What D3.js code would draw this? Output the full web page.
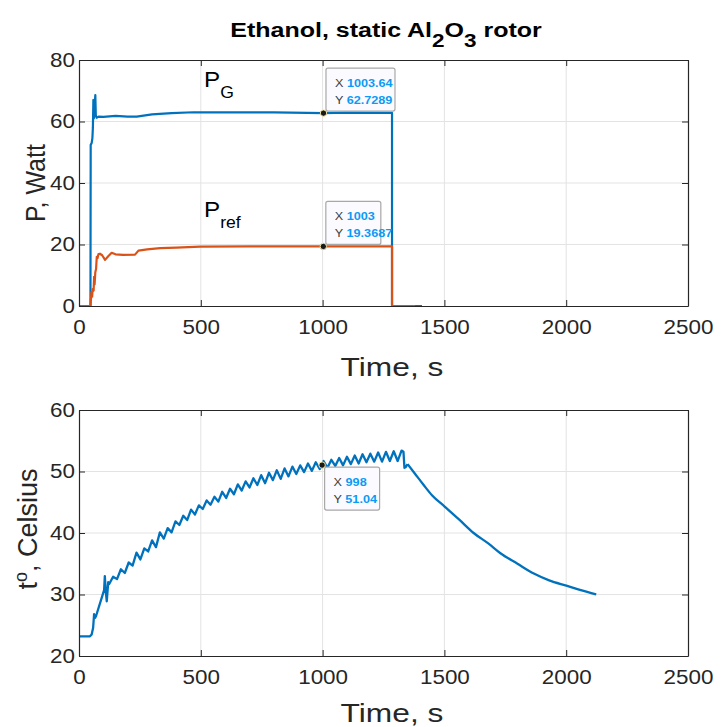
<!DOCTYPE html>
<html lang="en">
<head>
<meta charset="utf-8">
<title>Ethanol, static Al2O3 rotor</title>
<style>
  body { margin: 0; background: #fff; }
  svg { font-family: "Liberation Sans", Arial, Helvetica, sans-serif; }
  .tick text { fill: #262626; font-size: 19.5px; }
  .grid line { stroke: #e3e3e3; stroke-width: 1; }
</style>
</head>
<body>
<svg width="724" height="727"></svg>
<script src="https://d3js.org/d3.v7.min.js"></script>
<script>
// ---- data ----
var xTicks = [0, 500, 1000, 1500, 2000, 2500];
var pTicks = [0, 20, 40, 60, 80];
var tTicks = [20, 30, 40, 50, 60];

// generator power P_G (W) vs time (s)
var pgTime = [0, 47, 48, 52, 55, 57, 59, 61, 64, 67, 69, 72, 80, 100, 150, 200, 237, 300, 380, 470, 600, 800, 1003.64, 1100, 1285, 1285, 1408];
var pgVal  = [0, 0, 52.4, 53, 54.6, 58, 67, 61, 65, 68.6, 62, 61.2, 61.6, 61.5, 61.8, 61.6, 61.6, 62.3, 62.7, 63, 63, 63, 62.7289, 62.9, 62.8, 0, 0];

// reference power P_ref (W) vs time (s)
var prTime = [0, 47, 49, 51, 54, 56, 60, 62, 64, 67, 70, 73, 76, 80, 86, 95, 107, 120, 134, 150, 180, 230, 244, 280, 333, 400, 497, 700, 1003, 1200, 1285, 1285, 1380];
var prVal  = [0, 0, 2, 4.5, 3, 5.5, 5, 9.5, 7, 11, 12, 16, 15.5, 16.9, 17, 16.5, 15, 16.2, 17.3, 16.8, 16.6, 16.7, 18.0, 18.4, 18.8, 19.0, 19.3, 19.4, 19.3687, 19.4, 19.4, 0, 0];

// temperature (deg C) vs time (s)
var tTime = [0, 45, 52, 58, 62, 66, 70, 103, 106, 110, 114, 120,
  124, 140, 156, 172, 188, 204, 220, 236, 252, 268, 284, 300, 316, 332, 348, 364, 380, 396,
  412, 428, 444, 460, 476, 492, 508, 524, 540, 556, 572, 588, 604, 620, 636, 652, 668, 684,
  700, 716, 732, 748, 764, 780, 796, 812, 828, 844, 860, 876, 892, 908, 924, 940, 956, 972,
  988, 998, 1004, 1020, 1036, 1052, 1068, 1084, 1100, 1116, 1132, 1148, 1164, 1180, 1196, 1212, 1228,
  1244, 1260, 1276, 1292, 1308, 1324, 1332, 1336, 1341, 1349,
  1380, 1415, 1450, 1501, 1560, 1620, 1680, 1730, 1800, 1867, 1930, 2004, 2060, 2123];
var tVal = [23.2, 23.2, 23.5, 24.6, 26.8, 26.2, 26.5, 30.7, 33, 30.5, 28.9, 32,
  31.7, 32.9, 32.5, 34.1, 33.5, 35.2, 34.7, 36.8, 35.7, 37.5, 37.0, 38.8, 37.7, 40.1, 39.1, 40.8, 40.1, 41.9,
  41.3, 42.8, 42.1, 43.8, 43.0, 44.5, 43.9, 45.3, 44.6, 45.9, 45.1, 46.7, 45.7, 47.2, 46.3, 47.9, 46.9, 48.4,
  47.4, 48.9, 47.8, 49.4, 48.1, 49.8, 48.6, 50.2, 48.8, 50.5, 49.2, 50.8, 49.6, 51.0, 49.9, 51.3, 50.1, 51.5,
  50.4, 51.04, 51.7, 50.6, 51.9, 50.9, 52.2, 51.0, 52.4, 51.2, 52.6, 51.3, 52.8, 51.5, 52.9, 51.6, 53.1,
  51.6, 53.2, 51.7, 53.3, 51.7, 53.4, 53.2, 50.6, 50.7, 51.2,
  49.6, 47.8, 46.1, 44.3, 42.2, 40.0, 38.3, 36.7, 35.0, 33.4, 32.3, 31.4, 30.7, 30.0];

// data tips
var tipsTop = [{x: 1003.64, y: 62.7289}, {x: 1003, y: 19.3687}];
var tipsBot = [{x: 998, y: 51.04}];

var blue = "#0072bd", orange = "#d95319", axisCol = "#262626";
var sx = 1.15; // glyphs in the picture are a bit wider than plain Arial

var svg = d3.select("svg");

var x = d3.scaleLinear().domain([0, 2500]).range([79, 688]);
var yP = d3.scaleLinear().domain([0, 80]).range([306, 60]);
var yT = d3.scaleLinear().domain([20, 60]).range([656, 410]);

function pairs(a, b) { return a.map(function(v, i) { return [v, b[i]]; }); }

function panel(y, ticks) {
  var y0 = y.range()[0], y1 = y.range()[1];
  var grid = svg.append("g").attr("class", "grid");
  grid.selectAll(".gx").data(xTicks.slice(1, -1)).enter().append("line")
    .attr("x1", x).attr("x2", x).attr("y1", y0).attr("y2", y1);
  grid.selectAll(".gy").data(ticks.slice(1, -1)).enter().append("line")
    .attr("x1", 79).attr("x2", 688).attr("y1", y).attr("y2", y);
}

function frame(y, ticks) {
  var y0 = y.range()[0], y1 = y.range()[1];
  var ax = svg.append("g").attr("transform", "translate(0," + y0 + ")")
    .call(d3.axisBottom(x).tickValues(xTicks).tickFormat(d3.format("d")).tickSize(-6).tickPadding(14).tickSizeOuter(0));
  var ay = svg.append("g").attr("transform", "translate(79,0)")
    .call(d3.axisLeft(y).tickValues(ticks).tickSize(-6).tickPadding(4).tickSizeOuter(0));
  var at = svg.append("g").attr("transform", "translate(0," + y1 + ")")
    .call(d3.axisTop(x).tickValues(xTicks).tickSize(-6).tickFormat("").tickSizeOuter(0));
  var ar = svg.append("g").attr("transform", "translate(688,0)")
    .call(d3.axisRight(y).tickValues(ticks).tickSize(-6).tickFormat("").tickSizeOuter(0));
  [ax, ay, at, ar].forEach(function(a) {
    a.attr("font-family", null).attr("font-size", null);
    a.select(".domain").attr("stroke", axisCol).attr("stroke-width", 1.2);
    a.selectAll(".tick line").attr("stroke", axisCol);
  });
  ax.selectAll(".tick text").attr("transform", "scale(" + sx + ",1)");
  ay.selectAll(".tick text").attr("transform", "scale(" + sx + ",1)").attr("x", -4 / sx);
}

function tip(d, y, below) {
  var px = x(d.x), py = y(d.y);
  var g = svg.append("g");
  var bx = px + 2.5, by = below ? py + 2 : py - 45;
  var w = String(d.x).length > 4 ? 69 : 55;
  g.append("rect").attr("x", bx).attr("y", by).attr("width", w).attr("height", 43)
    .attr("rx", 2).attr("fill", "#fbfbff").attr("stroke", "#a8a8a8").attr("stroke-width", 1.2);
  [["X", d.x], ["Y", d.y]].forEach(function(r, i) {
    var t = g.append("text")
      .attr("transform", "translate(" + (bx + 9) + "," + (by + 19 + i * 16.5) + ") scale(1.15,1)")
      .attr("font-size", 11);
    t.append("tspan").attr("fill", "#404040").text(r[0] + " ");
    t.append("tspan").attr("fill", "#0b9af5").attr("font-weight", "bold").text(r[1]);
  });
  svg.append("circle").attr("cx", px).attr("cy", py).attr("r", 3.2)
    .attr("fill", "#1a1a1a").attr("stroke", "#f2e6a0").attr("stroke-width", 1);
}

var line = function(y) {
  return d3.line().x(function(d) { return x(d[0]); }).y(function(d) { return y(d[1]); });
};

// ---------- top panel ----------
panel(yP, pTicks);
svg.append("path").datum(pairs(pgTime, pgVal)).attr("d", line(yP))
  .attr("fill", "none").attr("stroke", blue).attr("stroke-width", 2.2).attr("stroke-linejoin", "round");
svg.append("path").datum(pairs(prTime, prVal)).attr("d", line(yP))
  .attr("fill", "none").attr("stroke", orange).attr("stroke-width", 2.2).attr("stroke-linejoin", "round");
frame(yP, pTicks);

var lblPG = svg.append("text").attr("transform", "translate(204,87) scale(1.1,1)").attr("font-size", 22).attr("fill", "#000");
lblPG.append("tspan").text("P");
lblPG.append("tspan").attr("dy", 11).attr("font-size", 16).text("G");
var lblPr = svg.append("text").attr("transform", "translate(204,217) scale(1.1,1)").attr("font-size", 22).attr("fill", "#000");
lblPr.append("tspan").text("P");
lblPr.append("tspan").attr("dy", 11).attr("font-size", 16).text("ref");

tipsTop.forEach(function(d) { tip(d, yP, false); });

svg.append("text").attr("transform", "translate(392,376) scale(1.22,1)").attr("text-anchor", "middle")
  .attr("font-size", 26).attr("fill", axisCol).text("Time, s");
svg.append("text").attr("transform", "translate(45,183) rotate(-90) scale(1,1.12)").attr("text-anchor", "middle")
  .attr("font-size", 25).attr("fill", axisCol).text("P, Watt");

// title
var title = svg.append("text").attr("transform", "translate(386,37) scale(1.25,1)").attr("text-anchor", "middle")
  .attr("font-size", 20).attr("font-weight", "bold").attr("fill", "#000");
title.append("tspan").text("Ethanol, static Al");
title.append("tspan").attr("dy", 10).attr("font-size", 18).text("2");
title.append("tspan").attr("dy", -10).text("O");
title.append("tspan").attr("dy", 10).attr("font-size", 18).text("3");
title.append("tspan").attr("dy", -10).text(" rotor");

// ---------- bottom panel ----------
panel(yT, tTicks);
var tData = pairs(tTime, tVal);
var cut = tTime.indexOf(1349);
// noisy heating part as measured, smooth cooling part
svg.append("path").datum(tData.slice(0, cut + 1)).attr("d", line(yT))
  .attr("fill", "none").attr("stroke", blue).attr("stroke-width", 2.3).attr("stroke-linejoin", "round");
svg.append("path").datum(tData.slice(cut)).attr("d", line(yT).curve(d3.curveMonotoneX))
  .attr("fill", "none").attr("stroke", blue).attr("stroke-width", 2.3).attr("stroke-linejoin", "round");
frame(yT, tTicks);

tipsBot.forEach(function(d) { tip(d, yT, true); });

svg.append("text").attr("transform", "translate(392,722) scale(1.22,1)").attr("text-anchor", "middle")
  .attr("font-size", 26).attr("fill", axisCol).text("Time, s");
var ylT = svg.append("text").attr("transform", "translate(37,529) rotate(-90)").attr("text-anchor", "middle")
  .attr("font-size", 27).attr("fill", axisCol);
ylT.append("tspan").text("t");
ylT.append("tspan").attr("dy", -10).attr("font-size", 18).text("o");
ylT.append("tspan").attr("dy", 10).text(", Celsius");
</script>
</body>
</html>
